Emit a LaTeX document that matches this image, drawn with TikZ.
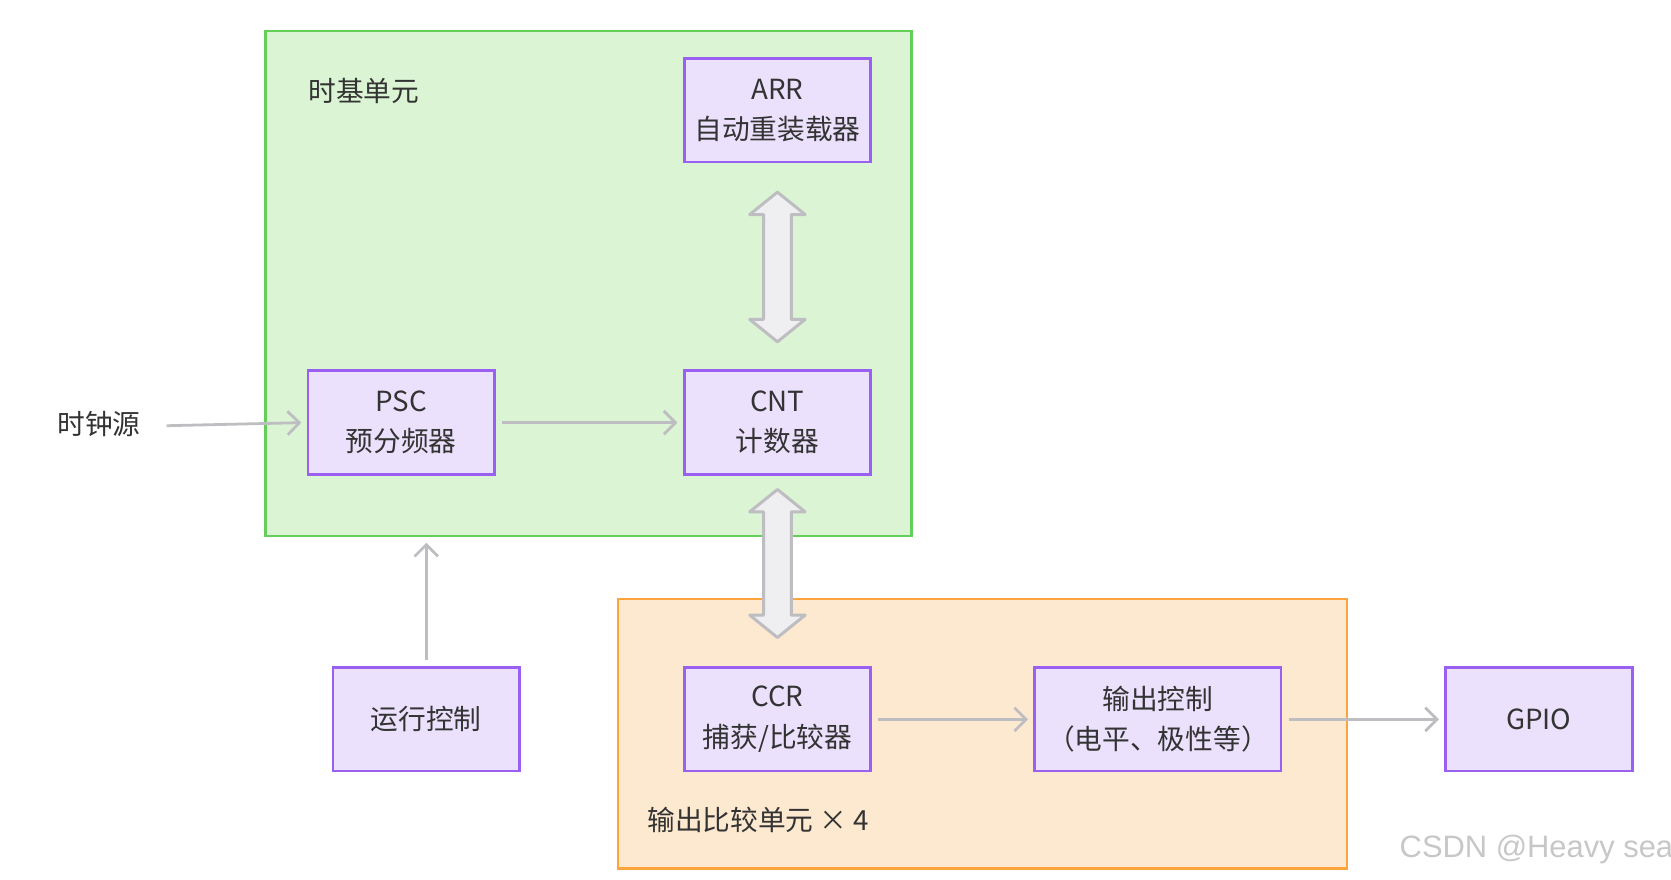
\documentclass[tikz,border=0pt]{standalone}
\usepackage{fontspec}
\setmainfont{Noto Sans CJK SC}
\newfontfamily\wmfont{Liberation Sans}
\usetikzlibrary{arrows.meta,calc}

\definecolor{boxfill}{HTML}{EBE1FC}
\definecolor{boxline}{HTML}{9A60F2}
\definecolor{tbfill}{HTML}{DAF4D4}
\definecolor{tbline}{HTML}{63CF58}
\definecolor{ocfill}{HTML}{FDE8D0}
\definecolor{ocline}{HTML}{FDA43F}
\definecolor{lnk}{HTML}{BDBDC2}
\definecolor{bigfill}{HTML}{EFEFF1}
\definecolor{txt}{HTML}{333333}

\tikzset{
  unit/.style={draw=boxline, fill=boxfill, line width=1.3pt, minimum width=87.5pt,
    minimum height=48.5pt, align=center, text=txt, font=\fontsize{13}{19}\selectfont},
  grp/.style={line width=1.3pt, inner sep=0pt},
  lbl/.style={text=txt, font=\fontsize{13}{19}\selectfont, inner sep=0pt},
  link/.style={draw=lnk, line width=1.3pt, -{Straight Barb[length=5.5pt,width=11pt]},
    shorten <=3pt, shorten >=2.5pt},
  bigarrow/.style={draw=lnk, fill=bigfill, line width=1.4pt, line join=round}
}

\begin{document}
\begin{tikzpicture}[x=0.5pt, y=-0.5pt]
	\useasboundingbox (0,0) rectangle (1568,825);
	%\draw[help lines] (0,0) grid[step=100] (1568,825);
	% groups
	\node[grp, draw=tbline, fill=tbfill, minimum width=303pt, minimum height=237pt] (tbu) at (552,266) {};
	\node[grp, draw=ocline, fill=ocfill, minimum width=342pt, minimum height=126.5pt] (ocu) at (922,688.5) {};
	\node[lbl, anchor=west] (tbut) at (289,85) {时基单元};
	\node[lbl, anchor=west] (ocut) at (607,769) {输出比较单元 × 4};
	% blocks
	\node[unit] (arr) at (729.5,103.5) {ARR\\自动重装载器};
	\node[unit] (psc) at (376.5,396.5) {PSC\\预分频器};
	\node[unit] (cnt) at (729.5,396.5) {CNT\\计数器};
	\node[unit] (run) at (400,675) {运行控制};
	\node[unit] (ccr) at (729.5,675) {CCR\\捕获/比较器};
	\node[unit, minimum width=115.5pt] (outc) at (1086.5,675) {输出控制\\（电平、极性等）};
	\node[unit] (gpio) at (1444,675) {GPIO};
	\node[lbl] (clk) at (93,398) {时钟源};
	% links
	\draw[link, shorten <=12pt] ([yshift=-1pt]clk.east) -- (psc.west);
	\draw[link] (psc) -- (cnt);
	\draw[link] (run.north) -- (run.north |- tbu.south);
	\draw[link] (ccr) -- (outc);
	\draw[link] (outc) -- (gpio);
	% double arrows
	\coordinate (a1) at ($(arr.south)+(0,27)$);
	\coordinate (a2) at ($(cnt.north)+(0,-26)$);
	\draw[bigarrow] (a1) -- ++(26,21) -- ++(-13,0) -- ($(a2)+(13,-21)$) -- ++(13,0) -- (a2)
		-- ++(-26,-21) -- ++(13,0) -- ($(a1)+(-13,21)$) -- ++(-13,0) -- cycle;
	\coordinate (b1) at ($(cnt.south)+(0,13)$);
	\coordinate (b2) at ($(ccr.north)+(0,-27)$);
	\draw[bigarrow] (b1) -- ++(26,21) -- ++(-13,0) -- ($(b2)+(13,-21)$) -- ++(13,0) -- (b2)
		-- ++(-26,-21) -- ++(13,0) -- ($(b1)+(-13,21)$) -- ++(-13,0) -- cycle;
	% watermark
	\node[anchor=west, inner sep=0pt, text=black!22, font=\wmfont\fontsize{14.5}{16}\selectfont] (wm) at (1313,797) {CSDN @Heavy sea};
\end{tikzpicture}
\end{document}
